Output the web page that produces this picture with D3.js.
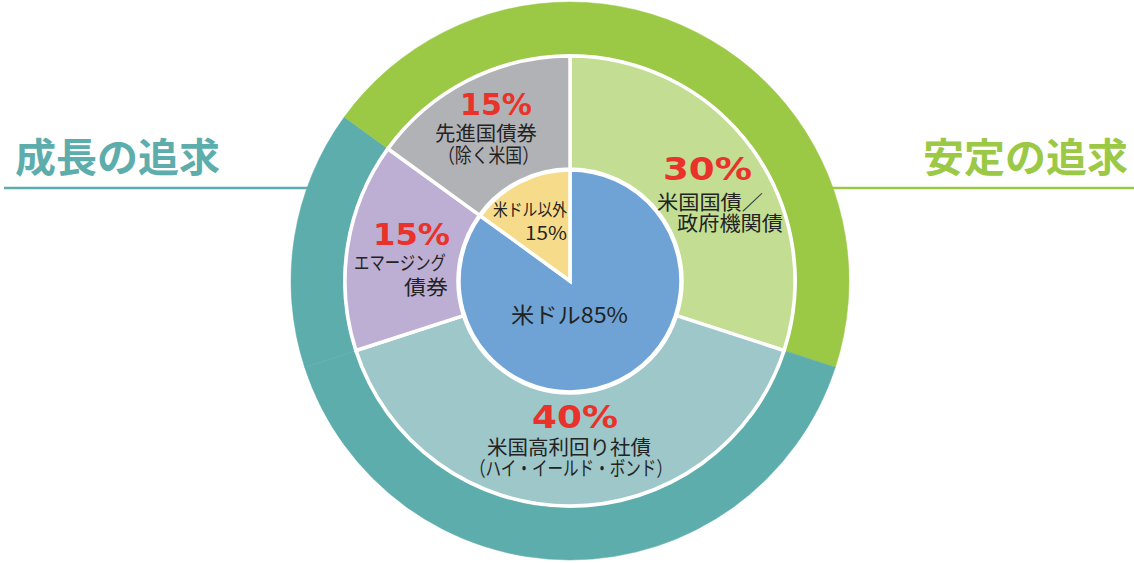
<!DOCTYPE html>
<html>
<head>
<meta charset="utf-8">
<script src="https://cdn.jsdelivr.net/npm/d3@7"></script>
<style>
  body { margin: 0; background: #fff; }
  svg { display: block; }
  .jp { font-family: "Noto Sans CJK JP", sans-serif; fill: #232323; }
  .pct { font-family: "DejaVu Sans", sans-serif; font-weight: bold; fill: #e9322a; }
</style>
</head>
<body>
<div id="chart"></div>
<script>
var fullWidth = 1134,
    fullHeight = 563;

// outer ring: investment aim
var aimNames  = ["安定の追求", "成長の追求"];
var aimColors = ["#9bc946", "#5eadad"];

// middle ring: bond classes (clockwise from 12 o'clock)
var bondNames  = [["米国国債／", "政府機関債"], ["米国高利回り社債", "（ハイ・イールド・ボンド）"], ["エマージング", "債券"], ["先進国債券", "（除く米国）"]];
var bondShares = [30, 40, 15, 15];
var bondAim    = ["安定の追求", "成長の追求", "成長の追求", "安定の追求"];
var bondColors = ["#c3dd92", "#9dc7c9", "#bdaed4", "#b1b2b5"];

// inner pie: currency
var currencyNames  = ["米ドル", "米ドル以外"];
var currencyShares = [85, 15];
var currencyColors = ["#6fa3d5", "#f6dc8a"];

var cx = 570, cy = 281;

var svg = d3.select("#chart").append("svg")
  .attr("width", fullWidth)
  .attr("height", fullHeight);

var aimColor = d3.scaleOrdinal().domain(aimNames).range(aimColors);

// header rules + titles
svg.append("line")
  .attr("x1", 4).attr("x2", cx).attr("y1", 188).attr("y2", 188)
  .attr("stroke", aimColor("成長の追求")).attr("stroke-width", 2.5);
svg.append("line")
  .attr("x1", cx).attr("x2", fullWidth).attr("y1", 188).attr("y2", 188)
  .attr("stroke", aimColor("安定の追求")).attr("stroke-width", 2.5);

[[aimNames[1], 15], [aimNames[0], 923]].forEach(function(h) {
  svg.append("text")
    .attr("x", h[1]).attr("y", 172)
    .attr("textLength", 205).attr("lengthAdjust", "spacingAndGlyphs")
    .style("font-family", "'Noto Sans CJK JP', sans-serif")
    .style("font-weight", "bold").style("font-size", "40px")
    .attr("fill", aimColor(h[0]))
    .text(h[0]);
});

var g = svg.append("g")
  .attr("transform", "translate(" + cx + "," + cy + ")");

var pie = d3.pie().sort(null).value(function(d) { return d; });

var bondArcs = pie(bondShares);
var curArcs  = pie(currencyShares);

// outer ring, one piece per bond class, coloured by aim
var outerArc = d3.arc().innerRadius(227).outerRadius(279);
g.append("g").selectAll("path")
  .data(bondArcs)
  .join("path")
  .attr("d", outerArc)
  .attr("fill", function(d, i) { return aimColor(bondAim[i]); })
  .attr("stroke", function(d, i) { return aimColor(bondAim[i]); })
  .attr("stroke-width", 0.5);

var midArc = d3.arc().innerRadius(112).outerRadius(225);
g.append("g").selectAll("path")
  .data(bondArcs)
  .join("path")
  .attr("d", midArc)
  .attr("fill", function(d, i) { return bondColors[i]; })
  .attr("stroke", "#fff")
  .attr("stroke-width", 3.5);

var pieArc = d3.arc().innerRadius(0).outerRadius(111);
g.append("g").selectAll("path")
  .data(curArcs)
  .join("path")
  .attr("d", pieArc)
  .attr("fill", function(d, i) { return currencyColors[i]; })
  .attr("stroke", "#fff")
  .attr("stroke-width", 3.5);

function pct(v) { return v + "%"; }

// one text block per segment; lines = [text, x, y, class, size, width]
function block(lines, anchor) {
  var t = svg.append("text").attr("text-anchor", anchor || "start");
  lines.forEach(function(l) {
    t.append("tspan")
      .attr("class", l[3])
      .attr("x", l[1]).attr("y", l[2])
      .style("font-size", l[4] + "px")
      .attr("textLength", l[5]).attr("lengthAdjust", "spacingAndGlyphs")
      .text(l[0]);
  });
}

// 先進国債券
block([
  [pct(bondShares[3]), 460, 115, "pct", 31, 72],
  [bondNames[3][0], 435, 141, "jp", 20, 102],
  [bondNames[3][1], 438, 163, "jp", 20, 101]
]);

// 米国国債
block([
  [pct(bondShares[0]), 663, 180, "pct", 32, 89],
  [bondNames[0][0], 657, 210, "jp", 20, 106],
  [bondNames[0][1], 677, 231, "jp", 20, 106]
]);

// エマージング
block([
  [pct(bondShares[2]), 373, 245, "pct", 31, 77],
  [bondNames[2][0], 354, 270, "jp", 19, 92],
  [bondNames[2][1], 404, 295, "jp", 20, 44]
]);

// ハイ・イールド
block([
  [pct(bondShares[1]), 532, 428, "pct", 32, 86],
  [bondNames[1][0], 487, 455, "jp", 20, 164],
  [bondNames[1][1], 470, 476, "jp", 20, 202]
]);

// currency
block([
  [currencyNames[1], 567, 216, "jp", 17, 74],
  [pct(currencyShares[1]), 567, 240, "jp", 18, 42]
], "end");
block([
  [currencyNames[0] + pct(currencyShares[0]), 511, 323, "jp", 22, 117]
]);
</script>
</body>
</html>
